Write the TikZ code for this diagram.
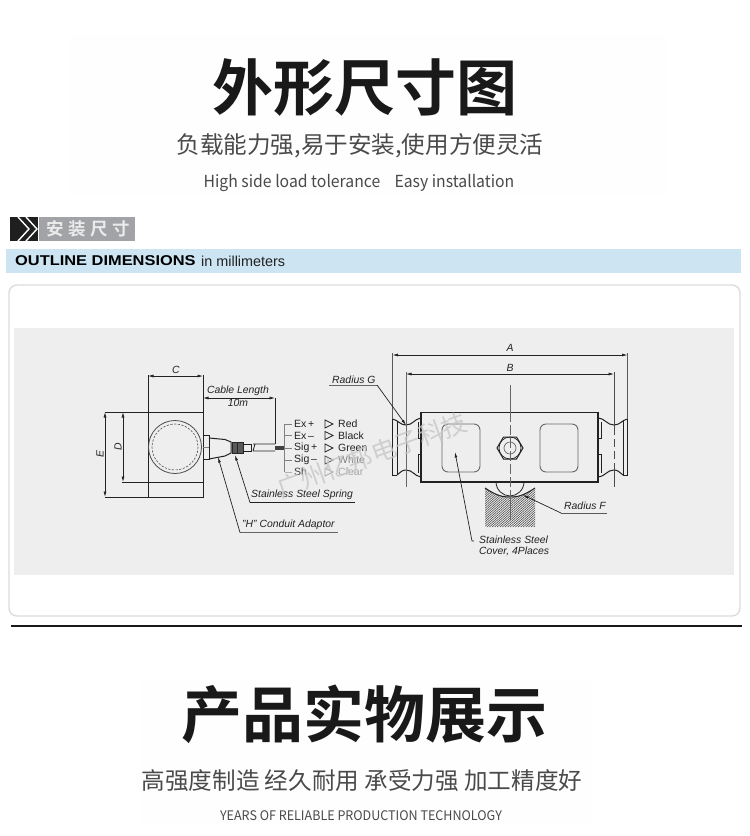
\documentclass[tikz,border=0pt]{standalone}
\usepackage{fontspec}
\usepackage{graphicx}
\usetikzlibrary{arrows.meta,calc}
\setmainfont{Liberation Sans}
\newfontfamily\cjk{Noto Sans CJK SC}
\newfontfamily\cjkb{Noto Sans CJK SC Bold}
\definecolor{panel}{HTML}{EEEEEE}
\definecolor{band}{HTML}{CDE4F2}
\definecolor{ink}{HTML}{222222}
\definecolor{frameg}{HTML}{DCDCDC}
\definecolor{tagg}{HTML}{A2A3A6}
\definecolor{soft}{HTML}{4A4A4A}
\definecolor{haze}{HTML}{FEFEFE}
\tikzset{
  title/.style={inner sep=0pt,font=\cjkb\fontsize{61}{61}\selectfont,text=black!90},
  sub/.style={inner sep=0pt,font=\cjk\fontsize{23.6}{24}\selectfont,text=soft},
  eng/.style={inner sep=0pt,font=\cjk\fontsize{16.6}{18}\selectfont,text=soft},
  lab/.style={inner sep=0pt,font=\fontsize{10.4}{10.6}\selectfont\itshape,text=ink},
  wire/.style={inner sep=0pt,anchor=west,font=\fontsize{10.5}{11}\selectfont,text=ink},
  ln/.style={draw=ink,line width=1pt},
  thick ln/.style={draw=ink,line width=1.2pt},
  dim/.style={draw=ink,line width=.7pt,{Latex[length=5.5pt,width=3pt]}-{Latex[length=5.5pt,width=3pt]}},
  ext/.style={draw=ink,line width=.8pt},
  leader/.style={draw=ink,line width=.7pt,-{Latex[length=5.5pt,width=2.8pt]}},
  under/.style={draw=ink,line width=.9pt},
  center ln/.style={draw=black!60,line width=.9pt},
}
\begin{document}
\begin{tikzpicture}[x=1pt,y=-1pt]
\useasboundingbox (0,0) rectangle (750,836);
\fill[white] (0,0) rectangle (750,836);
\fill[haze] (68,35) rectangle (668,195);
\fill[haze] (140,680) rectangle (592,825);
% heading block
\node[title] (t1) at (365,88) {外形尺寸图};
\node[sub] (t2) at (360,146) {负载能力强,易于安装,使用方便灵活};
\node[eng] (t3) at (359,183) {\scalebox{.95}[1]{High side load tolerance\hspace{15pt}Easy installation}};
% section tag
\fill[black!88] (10,217) rectangle (38,241);
\fill[tagg] (39,217) rectangle (135,241);
\draw[white,line width=1.4pt] (18,217) -- (29,229) -- (18,241);
\draw[white,line width=1.4pt] (26,217) -- (37,229) -- (26,241);
\node[inner sep=0pt,text=white!92!black,font=\cjkb\fontsize{17.5}{18}\selectfont] (tag) at (88,229) {安\hspace{4.5pt}装\hspace{4.5pt}尺\hspace{4.5pt}寸};
% band
\fill[band] (6,249) rectangle (741,273);
\node[inner sep=0pt,anchor=west,font=\bfseries\fontsize{14.2}{15}\selectfont,text=black] (od) at (15,261) {\scalebox{1.155}[1]{OUTLINE DIMENSIONS}};
\node[inner sep=0pt,anchor=west,font=\fontsize{14.4}{15}\selectfont,text=ink] (mm) at (201,261) {in millimeters};
% frame + panel
\draw[frameg,line width=1.4pt,rounded corners=8pt,fill=white] (9,285) rectangle (740,616);
\fill[panel] (14,328) rectangle (734,575);
\draw[black!90,line width=2pt] (11,625.5) -- (742,625.5);

% ===== left view =====
\draw[ln] (148,412) rectangle (203,497);
\draw[ln] (148,482) -- (203,482);
\draw[ext] (148,375) -- (148,412) (203,375) -- (203,412);
\draw[ext] (105,412) -- (148,412) (122,482) -- (148,482) (105,497) -- (148,497);
\draw[dim] (148,376) -- (203,376);
\draw[dim] (105,412) -- (105,497);
\draw[dim] (123,412) -- (123,482);
\node[lab] (c) at (176,370) {C};
\node[lab,rotate=90] (d) at (118,447) {D};
\node[lab,rotate=90] (e) at (100,454) {E};
\draw[line width=.8pt,draw=black!70] (175,447) circle (26.5);
\draw[line width=.6pt,draw=black!70,dash pattern=on 2.2pt off 1.5pt] (175,447) circle (23);
% adaptor
\draw[ln] (203,435) -- (209,435) -- (209,459) -- (203,459);
\draw[line width=.6pt,draw=black!50] (203,447) -- (209,447);
\draw[ln] (209,438) -- (225,439.5) -- (231,442) -- (231,453) -- (225,456) -- (209,459);
\fill[black!65] (232,442) rectangle (243,453);
\draw[line width=.6pt,draw=black!85] (232,442) rectangle (243,453) (237,442) -- (237,453);
\draw[line width=.8pt,draw=ink] (243,444) -- (251,444) -- (251,451) -- (243,451);
\draw[line width=.8pt,draw=ink] (253,444) -- (275,444) (253,451) -- (275,451) (255,444) -- (253,451);
\fill[black!75] (275,445.5) rectangle (285,449.5);
% cable length
\draw[ext] (275,398) -- (275,444);
\draw[dim] (203,398) -- (275,398);
\node[lab] (cl) at (238,391) {Cable Length};
\node[lab] (ten) at (238,403) {10m};
% wires
\draw[line width=1.2pt,draw=black!50] (284.5,424) -- (284.5,472);
\foreach \yy in {424,435,448,460}{\draw[line width=.9pt,draw=black!50] (284.5,\yy) -- (292,\yy);}
\draw[line width=.9pt,draw=black!30] (284.5,472) -- (292,472);
\node[wire] (w1) at (294,424) {Ex\,+};
\node[wire] (w2) at (294,435.5) {Ex\,--};
\node[wire] (w3) at (294,448) {Sig\,+};
\node[wire] (w4) at (294,460) {Sig\,--};
\node[wire,text=black!75] (w5) at (294,472) {Sh};
\foreach \yy/\cc in {424/ink,435.5/ink,448/ink,460/black!70,472/black!35}{
  \draw[line width=.7pt,draw=\cc] (325,\yy-4) -- (333,\yy) -- (325,\yy+4) -- cycle;}
\node[wire] (c1) at (338,424) {Red};
\node[wire] (c2) at (338,435.5) {Black};
\node[wire] (c3) at (338,448) {Green};
\node[wire,text=black!50] (c4) at (338,460) {White};
\node[wire,text=black!35] (c5) at (338,472) {Clear};
% left labels
\node[lab,anchor=west] (sp) at (251,495) {Stainless Steel Spring};
\coordinate (sp0) at (250,502.5);
\coordinate (sp1) at (355,502.5);
\coordinate (spt) at (235,455);
\draw[under] (sp0) -- (sp1);
\draw[leader] (sp0) -- (spt);
\node[lab,anchor=west] (hc) at (242,525) {"H" Conduit Adaptor};
\coordinate (hc0) at (240,532.5);
\coordinate (hc1) at (338,532.5);
\coordinate (hct) at (218,457);
\draw[under,draw=black!60] (hc0) -- (hc1);
\draw[leader] (hc0) -- (hct);

% ===== right view =====
\draw[thick ln] (421,412.5) rectangle (598,482);
% ends
\draw[ln] (392.5,419) -- (392.5,475) -- (397,475);
\draw[ln] (392.5,419) .. controls (398,420) and (400,425) .. (406,425) .. controls (413,425) and (414,419) .. (421,418);
\draw[ln] (397,475) .. controls (401,472) and (402,470) .. (406,470) .. controls (413,470) and (414,476) .. (421,477);
\draw[line width=.8pt,draw=ink] (397,420.5) -- (397,475);
\draw[ln] (627.5,419) -- (627.5,475) -- (623,475);
\draw[ln] (627.5,419) .. controls (622,420) and (620,425) .. (614,425) .. controls (607,425) and (606,419) .. (598,418);
\draw[ln] (623,475) .. controls (619,472) and (618,470) .. (614,470) .. controls (607,470) and (606,476) .. (598,477);
\draw[line width=.8pt,draw=ink] (623,420.5) -- (623,475);
\draw[ln] (418,422) -- (418,438) -- (421,438) (418,454) -- (421,454) (418,454) -- (418,473);
\draw[ln] (601,422) -- (601,438) -- (598,438) (598,454) -- (601,454) -- (601,473);
% windows
\draw[line width=.9pt,draw=black!60,rounded corners=6pt] (442,424) rectangle (480,472);
\draw[line width=.9pt,draw=black!60,rounded corners=6pt] (540,424) rectangle (578,472);
% hex
\draw[ln] (497,448) -- (503.5,437) -- (516.5,437) -- (523,448) -- (516.5,459) -- (503.5,459) -- cycle;
\draw[line width=.7pt,draw=ink] (510,448) circle (11);
\draw[line width=.7pt,draw=black!60] (510,448) circle (6);
% seat
\begin{scope}
\clip (485,488) .. controls (497,496) and (503,497) .. (510,497) .. controls (517,497) and (523,496) .. (535,488) -- (535,527) -- (485,527) -- cycle;
\foreach \k in {0,2.6,...,96}{\draw[line width=.5pt,draw=black!75] (485+\k-45,527) -- (485+\k,488);}
\end{scope}
\draw[ln] (485,488) .. controls (497,496) and (503,497) .. (510,497) .. controls (517,497) and (523,496) .. (535,488);
\draw[line width=.8pt,draw=ink] (496,482) .. controls (496,490) and (503,496) .. (510,496) .. controls (517,496) and (524,490) .. (524,482);
% centre line
\draw[center ln] (510,385) -- (510,412);
\draw[center ln,dash pattern=on 10pt off 3pt] (510,412) -- (510,497);
\draw[center ln] (510,497) -- (510,520);
% dims
\draw[ext,draw=black!65] (392.5,353) -- (392.5,419);
\draw[ext,draw=black!65] (627.5,353) -- (627.5,419);
\draw[ext,draw=black!60] (406,372) -- (406,487);
\draw[ext,draw=black!70] (614,372) -- (614,407);
\draw[ext,draw=black!70,dash pattern=on 28pt off 4pt on 8pt off 4pt on 8pt off 4pt] (614,407) -- (614,487);
\draw[dim] (392.5,355) -- (627.5,355);
\draw[dim] (406,374) -- (614,374);
\node[lab] (a) at (510,348) {A};
\node[lab] (b) at (510,368) {B};
% right labels
\node[lab,anchor=west] (rg) at (332,380) {Radius G};
\coordinate (rg0) at (329,385);
\coordinate (rg1) at (377,385);
\coordinate (rgt) at (406,425);
\draw[under,draw=black!60] (rg0) -- (rg1);
\draw[leader] (rg1) -- (rgt);
\node[lab,anchor=west] (rf) at (564,506) {Radius F};
\coordinate (rf0) at (561,513);
\coordinate (rf1) at (607,513);
\coordinate (rft) at (523,495);
\draw[under,draw=black!65] (rf0) -- (rf1);
\draw[leader] (rf0) -- (rft);
\node[lab,anchor=west,align=left] (cov) at (479,546) {Stainless Steel\\Cover, 4Places};
\coordinate (cv0) at (474,541);
\coordinate (cv1) at (472,541);
\coordinate (cvt) at (455,452);
\draw[leader] (cv0) -- (cv1) -- (cvt);
% watermark
\node[inner sep=0pt,rotate=20,text=black!22,opacity=.8,font=\cjk\fontsize{25}{25}\selectfont] (wm) at (372,455) {广州亿邦电子科技};

% bottom block
\node[title] (b1) at (364,714) {产品实物展示};
\node[sub] (b2) at (362,781) {高强度制造 经久耐用 承受力强 加工精度好};
\node[inner sep=0pt,font=\cjk\fontsize{13.2}{14}\selectfont,text=soft] (b3) at (361,816) {\scalebox{.95}[1]{YEARS OF RELIABLE PRODUCTION TECHNOLOGY}};
\end{tikzpicture}
\end{document}
